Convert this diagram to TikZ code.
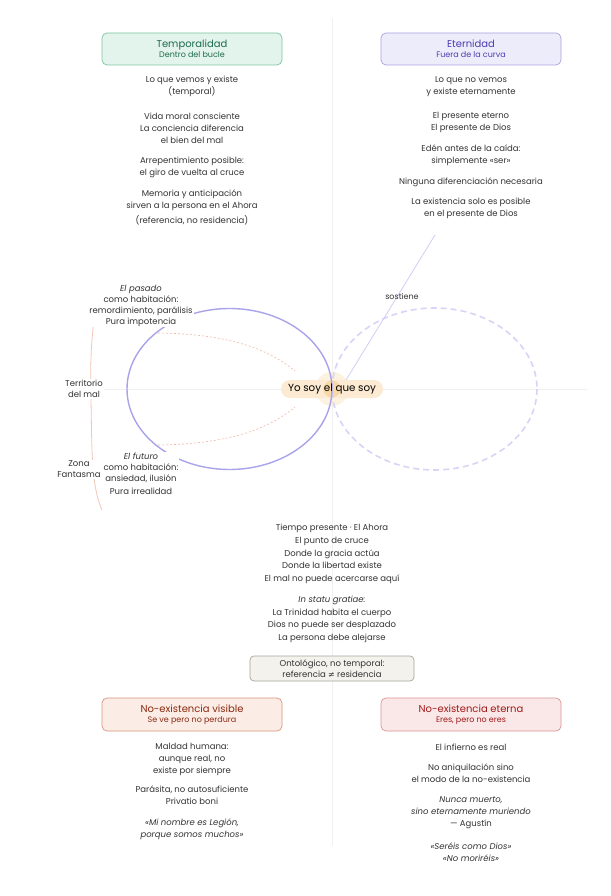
\documentclass[tikz,border=0pt]{standalone}
\usepackage{fontspec}
\setmainfont{Poppins}
\newfontfamily\symfont{DejaVu Sans}
\definecolor{txt}{HTML}{333333}
\definecolor{axis}{HTML}{F0F0F0}
\definecolor{loopc}{HTML}{A9A4EA}
\definecolor{dloop}{HTML}{D7D4F7}
\definecolor{orng}{HTML}{F2B9A6}
\definecolor{brk}{HTML}{F4C6B6}
\definecolor{sost}{HTML}{D2CEF5}
\definecolor{gfill}{HTML}{E3F4EC}\definecolor{gdraw}{HTML}{7CC4A0}\definecolor{gtxt}{HTML}{1E6B4A}
\definecolor{pfill}{HTML}{EDECFB}\definecolor{pdraw}{HTML}{A9A4E0}\definecolor{ptxt}{HTML}{4B3FB0}
\definecolor{ofill}{HTML}{FBEDE6}\definecolor{odraw}{HTML}{D9957E}\definecolor{otxt}{HTML}{8B2A12}
\definecolor{rfill}{HTML}{FAE8E8}\definecolor{rdraw}{HTML}{D99494}\definecolor{rtxt}{HTML}{A01A1A}
\definecolor{nfill}{HTML}{F3F2EC}\definecolor{ndraw}{HTML}{A8A69A}
\definecolor{glow}{HTML}{FDF1E0}\definecolor{pill}{HTML}{FCEAD2}\definecolor{core}{HTML}{F8D49C}
\newcommand{\bodyfont}{\fontsize{8.5}{12}\selectfont}
\tikzset{
  body/.style={text=txt, align=center, font=\bodyfont, inner sep=1pt, yshift=-1.5pt},
  lbl/.style={text=txt, align=center, font=\fontsize{8.5}{11}\selectfont, fill=white, inner sep=1pt},
  headbox/.style={rounded corners=5pt, line width=0.7pt, minimum width=180pt, minimum height=32pt, align=center},
}
\begin{document}
\begin{tikzpicture}[x=1pt,y=-1pt]
\useasboundingbox (0,0) rectangle (610,896);
\fill[white] (0,0) rectangle (610,896);
% axes
\draw[axis, line width=0.8pt] (332,18) -- (332,846);
\draw[axis, line width=0.8pt] (100,389) -- (587,389);
% header boxes
\node[headbox, fill=gfill, draw=gdraw] (temp) at (192,49) {\fontsize{10}{12}\selectfont\color{gtxt}Temporalidad\\[-2pt]\fontsize{8}{10}\selectfont\color{gtxt}Dentro del bucle};
\node[headbox, fill=pfill, draw=pdraw] (eter) at (471,49) {\fontsize{10}{12}\selectfont\color{ptxt}Eternidad\\[-2pt]\fontsize{8}{10}\selectfont\color{ptxt}Fuera de la curva};
\node[headbox, fill=ofill, draw=odraw, minimum height=33pt] (novis) at (192,714.5) {\fontsize{10}{12}\selectfont\color{otxt}No-existencia visible\\[-2pt]\fontsize{8}{10}\selectfont\color{otxt}Se ve pero no perdura};
\node[headbox, fill=rfill, draw=rdraw, minimum height=33pt] (noet) at (471,714.5) {\fontsize{10}{12}\selectfont\color{rtxt}No-existencia eterna\\[-2pt]\fontsize{8}{10}\selectfont\color{rtxt}Eres, pero no eres};
\node[rounded corners=4pt, line width=0.7pt, fill=nfill, draw=ndraw, minimum width=164pt, minimum height=25pt, align=center, text=txt, font=\fontsize{8.5}{11}\selectfont] (onto) at (332,668.5) {Ontológico, no temporal:\\referencia {\symfont\fontsize{8}{11}\selectfont ≠} residencia};
% left column
\node[body] (l1) at (192,85) {Lo que vemos y existe\\(temporal)};
\node[body] (l2) at (192,127) {Vida moral consciente\\La conciencia diferencia\\el bien del mal};
\node[body] (l3) at (192,166) {Arrepentimiento posible:\\el giro de vuelta al cruce};
\node[body] (l4) at (192,199) {Memoria y anticipación\\sirven a la persona en el Ahora};
\node[body] (l5) at (192,219) {(referencia, no residencia)};
% right column
\node[body] (r1) at (471,85) {Lo que no vemos\\y existe eternamente};
\node[body] (r2) at (471,121) {El presente eterno\\El presente de Dios};
\node[body] (r3) at (471,154) {Edén antes de la caída:\\simplemente «ser»};
\node[body] (r4) at (471,181) {Ninguna diferenciación necesaria};
\node[body] (r5) at (471,207) {La existencia solo es posible\\en el presente de Dios};
% centre glow & pill
\fill[glow] (332,389) circle (17);
\fill[pill, rounded corners=9pt] (281,380) rectangle (383,398);
\fill[core, opacity=0.8] (332,389) circle (8.5);
% loops
\draw[dloop, line width=1.6pt, dash pattern=on 6pt off 4pt] (434.5,389) ellipse [x radius=102.5, y radius=81];
\draw[loopc, line width=1.4pt] (229.5,389) ellipse [x radius=102.5, y radius=80.5];
% orange dashed curves
\coordinate (ou1) at (158,333);
\coordinate (ou2) at (295,371);
\coordinate (od1) at (158,445);
\coordinate (od2) at (295,407);
\draw[orng, line width=0.6pt, dash pattern=on 2pt off 2pt] (ou1) .. controls (235,334) and (272,352) .. (ou2);
\draw[orng, line width=0.6pt, dash pattern=on 2pt off 2pt] (od1) .. controls (235,444) and (272,426) .. (od2);
% sostiene
\coordinate (st) at (435,235);
\coordinate (sb) at (346,380);
\draw[sost, line width=0.8pt] (st) -- (sb);
\node[text=txt, font=\fontsize{8}{9}\selectfont, inner sep=1pt] (sostl) at (402,296) {sostiene};
% left bracket
\coordinate (bt) at (102,285);
\coordinate (bb) at (102,510);
\draw[brk, line width=0.8pt] (bt) .. controls (91,318) and (90,360) .. (91,400) .. controls (92,450) and (91,485) .. (bb);
\node[lbl] (terr) at (84,389) {Territorio\\del mal};
\node[lbl] (zona) at (79,469) {Zona\\Fantasma};
% loop labels
\node[lbl] (pas) at (141,305.5) {\textit{El pasado}\\como habitación:\\remordimiento, parálisis\\Pura impotencia};
\node[lbl] (fut) at (141,467.5) {\textit{El futuro}\\como habitación:\\ansiedad, ilusión};
\node[lbl] (fut2) at (141,491) {Pura irrealidad};
% centre text
\node[text=black, font=\fontsize{10.3}{11}\selectfont, inner sep=0pt] (yo) at (332,389.5) {Yo soy el que soy};
% centre lower
\node[body, font=\fontsize{8.5}{12.75}\selectfont] (c1) at (332,552.5) {Tiempo presente · El Ahora\\El punto de cruce\\Donde la gracia actúa\\Donde la libertad existe\\El mal no puede acercarse aquí};
\node[body, font=\fontsize{8.5}{12.7}\selectfont] (c2) at (332,618) {\textit{In statu gratiae:}\\La Trinidad habita el cuerpo\\Dios no puede ser desplazado\\La persona debe alejarse};
% bottom left
\node[body] (bl1) at (192,758) {Maldad humana:\\aunque real, no\\existe por siempre};
\node[body] (bl2) at (192,794) {Parásita, no autosuficiente\\Privatio boni};
\node[body, font=\itshape\fontsize{8.5}{11.5}\selectfont] (bl3) at (192,827.5) {«Mi nombre es Legión,\\porque somos muchos»};
% bottom right
\node[body] (br1) at (471,746) {El infierno es real};
\node[body] (br2) at (471,772) {No aniquilación sino\\el modo de la no-existencia};
\node[body] (br3) at (471,811) {\textit{Nunca muerto,}\\\textit{sino eternamente muriendo}\\— Agustín};
\node[body, font=\itshape\fontsize{8.5}{11.5}\selectfont] (br4) at (471,850.5) {«Seréis como Dios»\\«No moriréis»};
\end{tikzpicture}
\end{document}
